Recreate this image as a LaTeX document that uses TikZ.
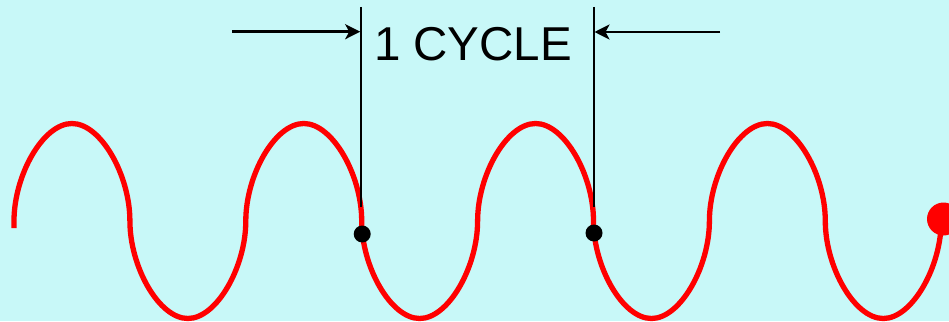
\documentclass[tikz,border=0pt]{standalone}
\usepackage{fontspec}
\setmainfont{Liberation Sans}
\usetikzlibrary{arrows.meta}
\definecolor{bgcyan}{RGB}{200,248,248}
\tikzset{
  wave/.style={draw=red, line width=5.3pt},
  marker/.style={circle, fill=black, inner sep=0pt, minimum size=17pt},
  enddot/.style={circle, fill=red, inner sep=0pt, minimum size=33pt},
  guide/.style={draw=black, line width=2pt},
  dimarrow/.style={draw=black, line width=2.6pt, -{Stealth[length=15pt,width=15pt,inset=4pt]}},
  label/.style={inner sep=0pt, anchor=base, font=\fontsize{47.5}{54}\selectfont}
}
\begin{document}
\begin{tikzpicture}[x=1pt,y=-1pt]
\useasboundingbox (0,0) rectangle (949,321);
\fill[bgcyan] (0,0) rectangle (949,321);
% waveform
\draw[wave] (14,228) -- (14,221)
  \foreach \k [evaluate=\k as \xa using {14+115.9*\k}, evaluate=\k as \s using {1-2*mod(\k,2)}] in {0,...,7} {
    .. controls (\xa,{221-\s*45.8}) and ({\xa+29},{221-\s*97.5}) .. ({\xa+57.95},{221-\s*97.5})
    .. controls ({\xa+86.9},{221-\s*97.5}) and ({\xa+115.9},{221-\s*45.8}) .. ({\xa+115.9},221)
  };
\node[enddot] (end) at (943.5,219) {};
% cycle markers
\node[marker] (p1) at (362.2,234) {};
\node[marker] (p2) at (594.0,233) {};
\coordinate (t1) at (361.2,7);
\coordinate (b1) at (361.2,207);
\coordinate (t2) at (593.5,7);
\coordinate (b2) at (593.5,207);
\draw[guide] (t1) -- (b1);
\draw[guide] (t2) -- (b2);
\coordinate (a1) at (232,31.7);
\coordinate (h1) at (360.2,31.7);
\coordinate (a2) at (720,32);
\coordinate (h2) at (594.5,32);
\draw[dimarrow] (a1) -- (h1);
\draw[dimarrow] (a2) -- (h2);
\node[label] (lbl) at (473,60) {1 CYCLE};
\end{tikzpicture}
\end{document}
